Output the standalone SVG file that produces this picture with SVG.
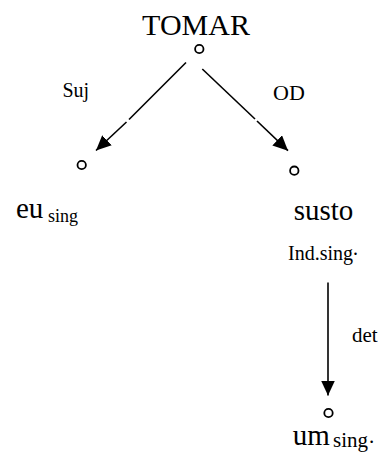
<svg xmlns="http://www.w3.org/2000/svg" width="383" height="455" viewBox="0 0 383 455">
  <style>
    .t { font-family: "Liberation Serif", "Times New Roman", serif; fill: #000; }
    .word { font-size: 29px; }
    .head { font-size: 30px; }
    .feat { font-size: 18px; }
    .rel { font-size: 21px; }
    .node-dot { fill: #fff; stroke: #000; stroke-width: 1.8; }
    .edge { fill: none; stroke: #000; stroke-width: 1.6; }
  </style>
  <defs>
    <marker id="arrow" markerUnits="userSpaceOnUse" markerWidth="16" markerHeight="14" refX="15" refY="7" orient="auto">
      <path d="M0,0 L15,7 L0,14 Z" fill="#000"/>
    </marker>
  </defs>
  <rect width="383" height="455" fill="#fff"/>

  <g id="connectors">
    <!-- TOMAR -> eu (Suj) -->
    <line class="edge" x1="186" y1="62.5" x2="129" y2="119.5"/>
    <line class="edge" x1="126.5" y1="122" x2="96" y2="150.5" marker-end="url(#arrow)"/>
    <!-- TOMAR -> susto (OD) -->
    <line class="edge" x1="202.3" y1="69" x2="255" y2="119"/>
    <line class="edge" x1="257" y1="121" x2="288" y2="150.7" marker-end="url(#arrow)"/>
    <!-- susto -> um (det) -->
    <line class="edge" x1="328" y1="282.5" x2="328" y2="395.5" marker-end="url(#arrow)"/>
    <text class="t rel" x="62.5" y="97" style="font-size:20px">Suj</text>
    <text class="t rel" x="273" y="100" style="font-size:22px">OD</text>
    <text class="t rel" x="352" y="341.7">det</text>
  </g>

  <g id="node-tomar">
    <text class="t head" x="196" y="35" text-anchor="middle">TOMAR</text>
    <circle class="node-dot" cx="199.3" cy="49" r="4.2"/>
  </g>

  <g id="node-eu">
    <circle class="node-dot" cx="81.7" cy="165" r="4.2"/>
    <text class="t word" x="16" y="218">eu</text>
    <text class="t feat" x="48" y="221.5">sing</text>
  </g>

  <g id="node-susto">
    <circle class="node-dot" cx="294.3" cy="170.7" r="4.2"/>
    <text class="t word" x="323.5" y="220" text-anchor="middle">susto</text>
    <text class="t feat" x="288" y="260" style="font-size:20px">Ind.sing<tspan dy="-5">.</tspan></text>
  </g>

  <g id="node-um">
    <circle class="node-dot" cx="328.5" cy="413" r="4.2"/>
    <text class="t word" x="292.7" y="445">um</text>
    <text class="t feat" x="333" y="447" style="font-size:21px">sing<tspan dx="1" dy="-4">.</tspan></text>
  </g>
</svg>
